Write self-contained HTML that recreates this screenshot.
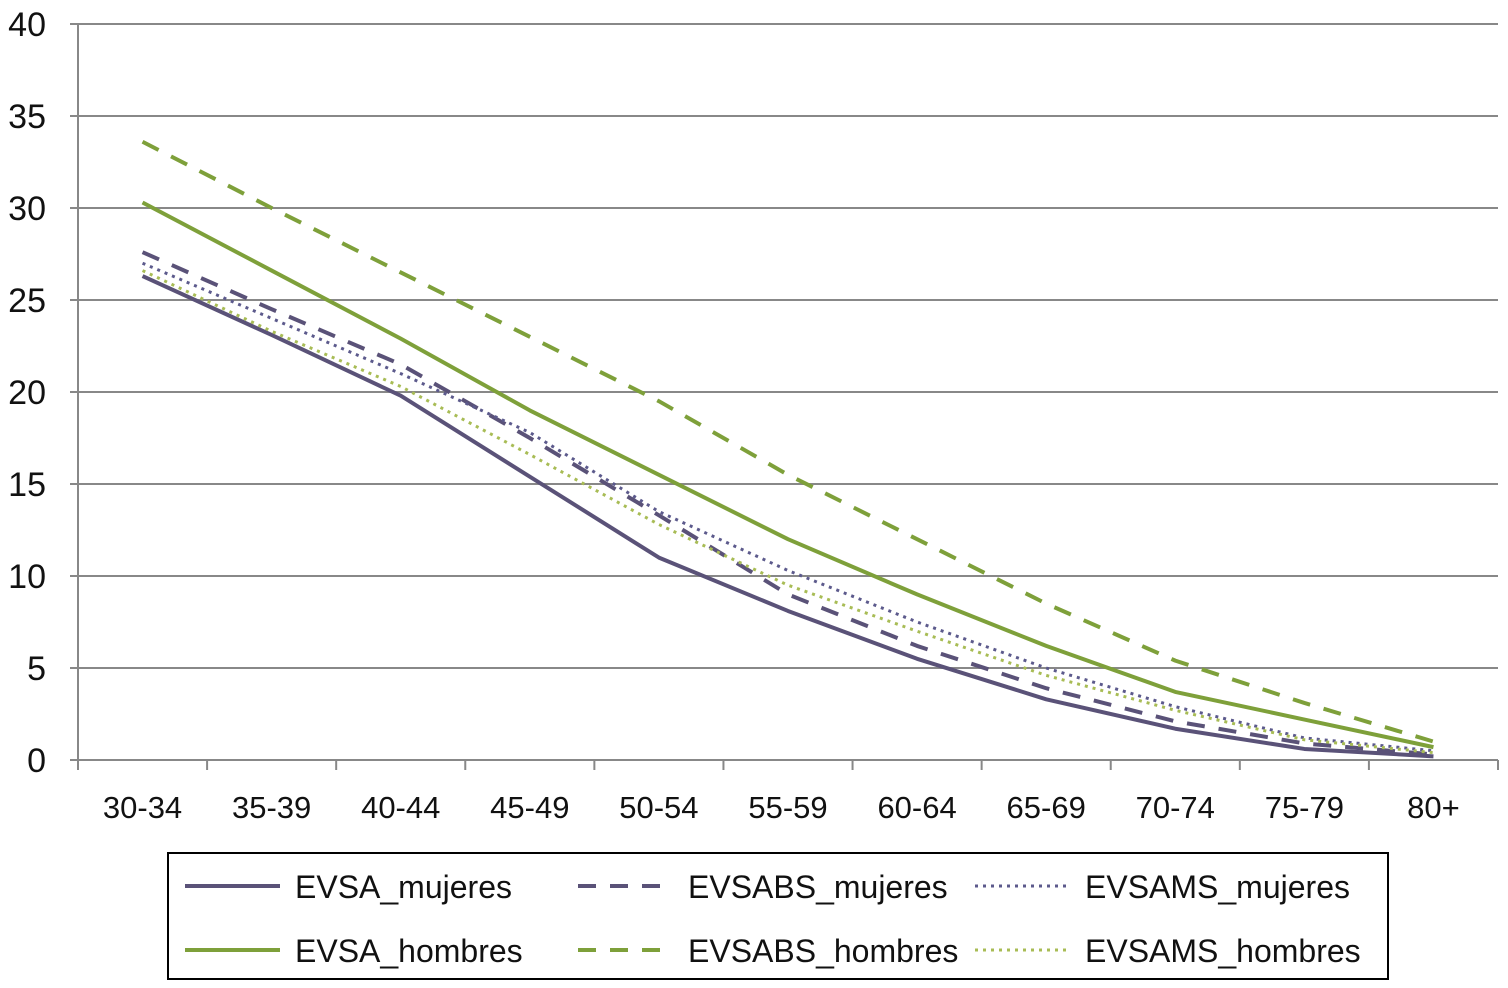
<!DOCTYPE html>
<html><head><meta charset="utf-8"><style>
body{margin:0;background:#fff;}
svg text{font-family:"Liberation Sans",sans-serif;}
</style></head><body>
<svg id="chart" width="1508" height="983" xmlns="http://www.w3.org/2000/svg">
<g id="grid"></g><g id="axes"></g><g id="series"></g><g id="legend"></g>
</svg>
<script>
const categories=["30-34","35-39","40-44","45-49","50-54","55-59","60-64","65-69","70-74","75-79","80+"];
const yTicks=[0,5,10,15,20,25,30,35,40];
const evsaMujeres=[26.3,23.1,19.8,15.4,11,8.1,5.5,3.3,1.7,0.6,0.2];
const evsabsMujeres=[27.6,24.5,21.5,17.5,13.3,9,6.2,3.9,2.1,0.9,0.3];
const evsamsMujeres=[27,24,21,17.8,13.5,10.3,7.5,5,2.9,1.2,0.5];
const evsaHombres=[30.3,26.6,22.9,19,15.5,12,9,6.2,3.7,2.2,0.7];
const evsabsHombres=[33.6,30,26.5,23,19.5,15.5,12,8.5,5.4,3.1,1.0];
const evsamsHombres=[26.6,23.3,20.3,16.6,12.8,9.5,7,4.6,2.7,1.1,0.4];
const NS="http://www.w3.org/2000/svg";
const L=78,R=1498,T=24,B=760;
const bw=(R-L)/categories.length;
function x(i){return L+bw*(i+0.5);}
function y(v){return B-(v/40)*(B-T);}
function mk(tag,attrs,parent){const e=document.createElementNS(NS,tag);for(const k in attrs)e.setAttribute(k,attrs[k]);parent.appendChild(e);return e;}
const grid=document.getElementById('grid'),axes=document.getElementById('axes'),ser=document.getElementById('series'),leg=document.getElementById('legend');
yTicks.forEach(t=>{
 const ln=mk('line',{x1:L-8,x2:R,y1:y(t),y2:y(t),stroke:'#888','stroke-width':2},grid);
 
 
 const tx=mk('text',{x:46,y:y(t)+12,'font-size':34,'text-anchor':'end',fill:'#111'},axes);
 tx.textContent=t;
 
 
});
const ya=mk('line',{x1:L,x2:L,y1:T,y2:B,stroke:'#888','stroke-width':2},axes);


for(let i=0;i<=categories.length;i++){
 const tk=mk('line',{x1:L+bw*i,x2:L+bw*i,y1:B,y2:B+10,stroke:'#888','stroke-width':2},axes);
 
 
}
categories.forEach((c,i)=>{
 const tx=mk('text',{x:x(i),y:818,'font-size':31,'text-anchor':'middle',fill:'#111'},axes);
 tx.textContent=c;
 
 
});
const P='#5a5278',G='#7ea03a',G2='#a8bc55';
const series=[
 {n:'EVSA_mujeres',d:evsaMujeres,c:P,da:'',w:4},
 {n:'EVSABS_mujeres',d:evsabsMujeres,c:P,da:'18,14',w:4},
 {n:'EVSAMS_mujeres',d:evsamsMujeres,c:'#5c5a8c',da:'3,5',w:3},
 {n:'EVSA_hombres',d:evsaHombres,c:G,da:'',w:4},
 {n:'EVSABS_hombres',d:evsabsHombres,c:G,da:'18,14',w:4},
 {n:'EVSAMS_hombres',d:evsamsHombres,c:G2,da:'3,5',w:3}
];
series.forEach(s=>{
 const p=mk('polyline',{points:s.d.map((v,i)=>x(i)+','+y(v)).join(' '),fill:'none',stroke:s.c,'stroke-width':s.w,'stroke-dasharray':s.da,'stroke-linejoin':'round'},ser);
 
 
});
const box=mk('rect',{x:168,y:853,width:1220,height:126,fill:'#fff',stroke:'#000','stroke-width':2},leg);


const lx=[185,578,975],ly=[886,950];
series.forEach((s,i)=>{
 const col=i%3,row=Math.floor(i/3);
 const g=mk('g',{},leg);
 
 
 mk('line',{x1:lx[col],x2:lx[col]+95,y1:ly[row],y2:ly[row],stroke:s.c,'stroke-width':s.w,'stroke-dasharray':s.da},g);
 const t=mk('text',{x:lx[col]+110,y:ly[row]+12,'font-size':32,fill:'#111'},g);
 t.textContent=s.n;
});
</script>
</body></html>
